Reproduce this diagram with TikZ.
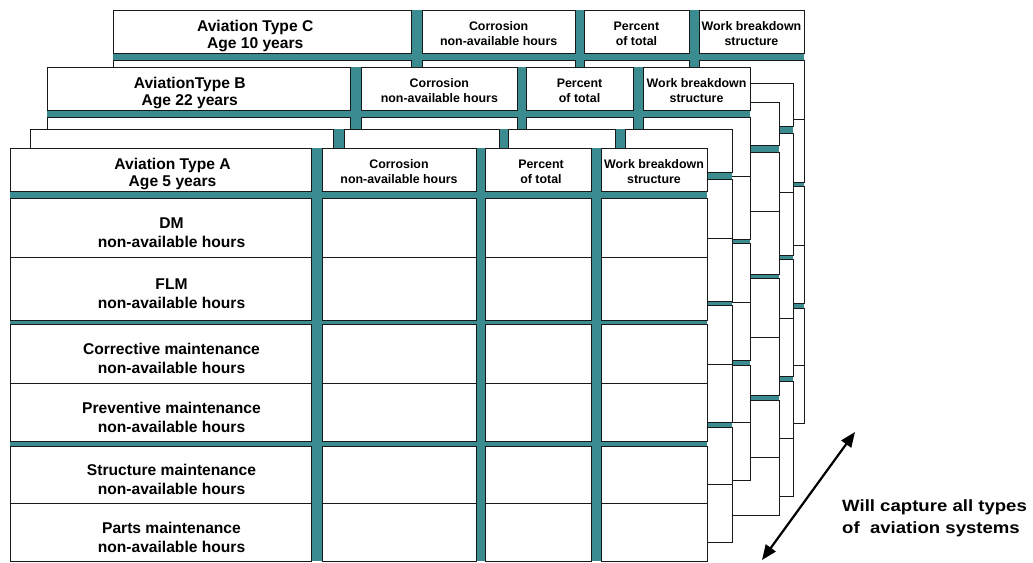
\documentclass[tikz,border=0pt]{standalone}
\usepackage{fontspec}
\setmainfont{Liberation Sans}
\newfontfamily\notefont[FakeStretch=1.14]{Liberation Sans}
\usetikzlibrary{arrows.meta}
\definecolor{tealbg}{RGB}{58,140,145}
\tikzset{
  cellbox/.style={draw=black!90, line width=0.8pt, fill=white, inner sep=0pt, outer sep=0pt, align=center},
  tablebg/.style={fill=tealbg},
  titletext/.style={align=center, inner sep=0pt, font=\fontsize{15.6}{17.5}\selectfont\bfseries, yshift=-4.5pt},
  smalltext/.style={align=center, inner sep=0pt, font=\fontsize{12.4}{15}\selectfont\bfseries, yshift=-2.5pt},
  bodytext/.style={align=center, inner sep=0pt, font=\fontsize{15.6}{19}\selectfont\bfseries, yshift=-5pt, xshift=11pt},
  notetext/.style={align=left, inner sep=0pt, anchor=north west, font=\notefont\fontsize{16.3}{22}\selectfont\bfseries},
  twoway/.style={<->, line width=2.2pt, >={Triangle[length=15pt,width=12pt]}},
}
% one cell of the current layer
\newcommand\cellnode[6]{%
  \node[cellbox, minimum width={(#3-#2)*\TSX*1pt}, minimum height={(#5-#4)*\TSY*1pt}]
    (#1) at ({\TX+(#2+#3)/2*\TSX},{\TY+(#4+#5)/2*\TSY}) {#6};%
}
% one table layer: name, x0, y0, xscale, yscale
\newcommand\tbl[5]{%
  \pgfmathsetmacro\TX{#2}%
  \pgfmathsetmacro\TY{#3}%
  \pgfmathsetmacro\TSX{#4}%
  \pgfmathsetmacro\TSY{#5}%
  \fill[tablebg] (\TX,\TY) rectangle ({\TX+697*\TSX},{\TY+413*\TSY});
  \cellnode{#1-h1}{0}{301}{0}{43}{}
  \cellnode{#1-h2}{312}{466}{0}{43}{}
  \cellnode{#1-h3}{475}{581}{0}{43}{}
  \cellnode{#1-h4}{591}{697}{0}{43}{}
  \foreach \ca/\cb/\cn in {0/301/1,312/466/2,475/581/3,591/697/4}{
    \foreach \ra/\rb/\rn in {50/109/1,109/172/2,176/235/3,235/293/4,298/355/5,355/413/6}{
      \cellnode{#1-\rn-\cn}{\ca}{\cb}{\ra}{\rb}{}
    }
  }%
}
\begin{document}
\begin{tikzpicture}[x=1pt,y=-1pt]
\useasboundingbox (0,0) rectangle (1033,562);
% layers, back to front
\tbl{C}{113}{10}{0.9914}{1}
\node[titletext, xshift=-7pt] (tC1) at (C-h1) {Aviation Type C\\Age 10 years};
\node[smalltext] (tC2) at (C-h2) {Corrosion\\non-available hours};
\node[smalltext] (tC3) at (C-h3) {Percent\\of total};
\node[smalltext] (tC4) at (C-h4) {Work breakdown\\structure};
\tbl{E}{96}{83}{1}{1}
\tbl{D}{82}{102}{1}{1}
\tbl{B}{47}{67}{1.0086}{1}
\node[titletext, xshift=-9pt] (tB1) at (B-h1) {AviationType B\\Age 22 years};
\node[smalltext] (tB2) at (B-h2) {Corrosion\\non-available hours};
\node[smalltext] (tB3) at (B-h3) {Percent\\of total};
\node[smalltext] (tB4) at (B-h4) {Work breakdown\\structure};
\tbl{F}{30}{129}{1.0072}{1}
\tbl{A}{10}{148}{1}{1}
\node[titletext, xshift=12pt] (tA1) at (A-h1) {Aviation Type A\\Age 5 years};
\node[smalltext] (tA2) at (A-h2) {Corrosion\\non-available hours};
\node[smalltext, xshift=3pt] (tA3) at (A-h3) {Percent\\of total};
\node[smalltext] (tA4) at (A-h4) {Work breakdown\\structure};
\node[bodytext] (r1) at (A-1-1) {DM\\non-available hours};
\node[bodytext] (r2) at (A-2-1) {FLM\\non-available hours};
\node[bodytext] (r3) at (A-3-1) {Corrective maintenance\\non-available hours};
\node[bodytext] (r4) at (A-4-1) {Preventive maintenance\\non-available hours};
\node[bodytext] (r5) at (A-5-1) {Structure maintenance\\non-available hours};
\node[bodytext] (r6) at (A-6-1) {Parts maintenance\\non-available hours};
% arrow and note
\coordinate (arrlo) at (762,560);
\coordinate (arrhi) at (855,432);
\draw[twoway] (arrlo) -- (arrhi);
\node[notetext] (note) at (842,499.5) {Will capture all types\\of\ \ aviation systems};
\end{tikzpicture}
\end{document}
